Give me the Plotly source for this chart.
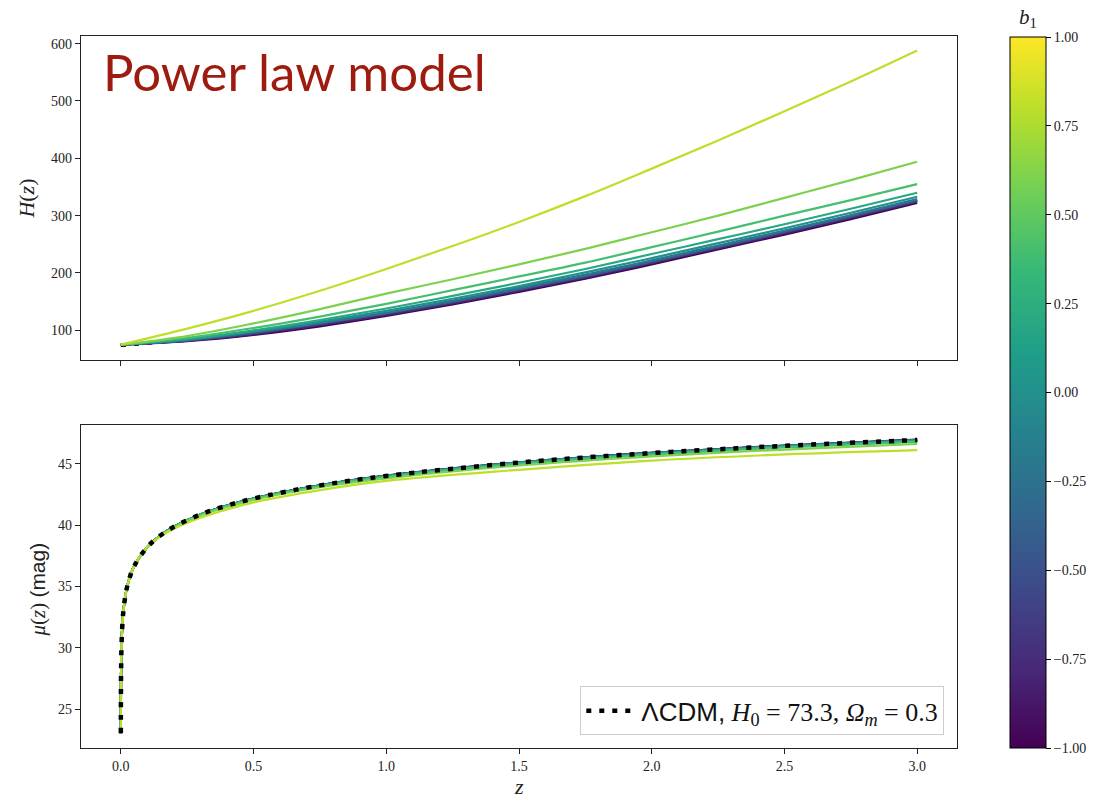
import plotly.graph_objects as go
from plotly.colors import sample_colorscale

# ---------------- data ----------------
# power-law parameter of each plotted model
B1 = [-1.0, -0.8, -0.6, -0.4, -0.2, 0.0, 0.2, 0.4, 0.6, 0.8]

# redshift grid for H(z)
Z_H = [0.0, 0.25, 0.5, 0.75, 1.0, 1.25, 1.5, 1.75, 2.0, 2.25, 2.5, 2.75, 3.0]

H_M10 = [75, 81, 92, 107, 125, 145, 167, 190, 215, 241, 267, 294, 322]
H_M08 = [75, 82, 93, 109, 127, 147, 169, 192, 217, 243, 269, 296, 324]
H_M06 = [75, 82, 95, 111, 129, 149, 171, 194, 219, 245, 271, 298, 326]
H_M04 = [75, 83, 96, 112, 130, 150, 172, 195, 220, 246, 272, 299, 327]
H_M02 = [75, 83, 97, 113, 131, 152, 174, 197, 222, 248, 274, 301, 329]
H_P00 = [75, 84, 98, 115, 134, 155, 177, 201, 226, 252, 278, 305, 333]
H_P02 = [75, 85, 100, 118, 138, 160, 183, 207, 233, 259, 285, 312, 340]
H_P04 = [75, 87, 104, 124, 146, 170, 194, 218, 245, 272, 300, 327, 355]
H_P06 = [75, 90, 112, 137, 164, 189, 215, 242, 271, 300, 331, 362, 394]
H_P08 = [75, 103, 134, 169, 207, 247, 289, 334, 382, 431, 482, 534, 588]
H_CURVES = [H_M10, H_M08, H_M06, H_M04, H_M02, H_P00, H_P02, H_P04, H_P06, H_P08]

H_LCDM = [73.3, 83.1, 95.9, 111.4, 129.1, 148.7, 170.1, 193.1, 217.4, 243.1, 269.9, 297.9, 327.0]

# redshift grid for the distance modulus
Z_MU = [0.0001, 0.0002, 0.0005, 0.001, 0.002, 0.005, 0.01, 0.02, 0.03, 0.05, 0.1,
        0.15, 0.2, 0.3, 0.4, 0.5, 0.75, 1.0, 1.5, 2.0, 2.5, 3.0]
MU_LOWZ = [23.06, 24.56, 26.55, 28.06, 29.57, 31.56, 33.07, 34.60, 35.49, 36.64, 38.22]

MU_M10 = MU_LOWZ + [39.17, 39.86, 40.86, 41.58, 42.16, 43.24, 44.02, 45.10, 45.88, 46.47, 46.95]
MU_M08 = MU_LOWZ + [39.17, 39.86, 40.86, 41.58, 42.16, 43.24, 44.01, 45.09, 45.87, 46.46, 46.94]
MU_M06 = MU_LOWZ + [39.17, 39.86, 40.86, 41.58, 42.16, 43.23, 44.01, 45.09, 45.87, 46.46, 46.93]
MU_M04 = MU_LOWZ + [39.17, 39.86, 40.86, 41.58, 42.16, 43.23, 44.00, 45.08, 45.86, 46.45, 46.92]
MU_M02 = MU_LOWZ + [39.17, 39.86, 40.86, 41.58, 42.15, 43.22, 43.99, 45.07, 45.84, 46.43, 46.90]
MU_P00 = MU_LOWZ + [39.16, 39.86, 40.86, 41.57, 42.15, 43.22, 43.98, 45.06, 45.83, 46.42, 46.89]
MU_P02 = MU_LOWZ + [39.16, 39.85, 40.85, 41.56, 42.14, 43.20, 43.96, 45.03, 45.80, 46.39, 46.85]
MU_P04 = MU_LOWZ + [39.15, 39.84, 40.83, 41.54, 42.12, 43.17, 43.92, 44.98, 45.74, 46.32, 46.78]
MU_P06 = MU_LOWZ + [39.13, 39.80, 40.78, 41.47, 42.05, 43.08, 43.80, 44.85, 45.60, 46.15, 46.60]
MU_P08 = MU_LOWZ + [39.08, 39.70, 40.60, 41.27, 41.85, 42.85, 43.60, 44.50, 45.25, 45.75, 46.10]
MU_CURVES = [MU_M10, MU_M08, MU_M06, MU_M04, MU_M02, MU_P00, MU_P02, MU_P04, MU_P06, MU_P08]

MU_LCDM = MU_LOWZ + [39.17, 39.86, 40.86, 41.58, 42.16, 43.23, 44.00, 45.09, 45.86, 46.45, 46.93]

X_TICKS = [0.0, 0.5, 1.0, 1.5, 2.0, 2.5, 3.0]
H_TICKS = [100, 200, 300, 400, 500, 600]
MU_TICKS = [25, 30, 35, 40, 45]
CB_TICKS = [-1.0, -0.75, -0.5, -0.25, 0.0, 0.25, 0.5, 0.75, 1.0]
CB_LABELS = ["\u22121.00", "\u22120.75", "\u22120.50", "\u22120.25", "0.00",
             "0.25", "0.50", "0.75", "1.00"]

# ---------------- layout geometry (pixels) ----------------
W, H = 1102, 802
L, R, T, B = 80.7, 956.7, 35.7, 747.7          # outer plotting box
TOP_BOTTOM = 360.0                              # lower edge of H(z) panel
BOT_TOP = 424.3                                 # upper edge of mu(z) panel
CB_LEFT, CB_TOP, CB_BOTTOM, CB_W = 1010, 36.7, 747.7, 36


def fx(px):
    return (px - L) / (R - L)


def fy(py):
    return (B - py) / (B - T)


SERIF = "Liberation Serif"
INK = "#222222"

fig = go.Figure()

colors = sample_colorscale("Viridis", [(b + 1) / 2 for b in B1])

# LCDM reference under the model curves in the H(z) panel
fig.add_trace(go.Scatter(
    x=Z_H, y=H_LCDM, mode="lines", xaxis="x", yaxis="y",
    line=dict(color="black", width=3, dash="5px,8px", shape="spline"),
    showlegend=False, hoverinfo="skip"))

for b, hv, c in zip(B1, H_CURVES, colors):
    fig.add_trace(go.Scatter(
        x=Z_H, y=hv, mode="lines", xaxis="x", yaxis="y",
        line=dict(color=c, width=2.2, shape="spline"),
        showlegend=False, name=f"b1={b}"))

for b, mv, c in zip(B1, MU_CURVES, colors):
    fig.add_trace(go.Scatter(
        x=Z_MU, y=mv, mode="lines", xaxis="x2", yaxis="y2",
        line=dict(color=c, width=2.2, shape="spline"),
        showlegend=False, name=f"b1={b}"))

NB = "\u00a0"
legend_text = ('<span style="font-family:Liberation Sans">\u039bCDM,</span>' + NB
               + '<i>H</i><sub>0</sub>' + NB + "=" + NB + "73.3," + NB
               + '<i>\u03a9<sub>m</sub></i>' + NB + "=" + NB + "0.3")
fig.add_trace(go.Scatter(
    x=Z_MU, y=MU_LCDM, mode="lines", xaxis="x2", yaxis="y2",
    line=dict(color="black", width=4.5, dash="5px,8px", shape="spline"),
    name=legend_text, showlegend=True))

# colour scale for b1
fig.add_trace(go.Scatter(
    x=[None], y=[None], mode="markers", showlegend=False, hoverinfo="skip",
    marker=dict(
        color=[0], colorscale="Viridis", cmin=-1, cmax=1, showscale=True,
        colorbar=dict(
            x=fx(CB_LEFT), xanchor="left", xpad=0,
            y=fy((CB_TOP + CB_BOTTOM) / 2), yanchor="middle", ypad=0,
            len=(CB_BOTTOM - CB_TOP) / (B - T), lenmode="fraction",
            thickness=CB_W, thicknessmode="pixels",
            outlinewidth=1, outlinecolor="black",
            tickvals=CB_TICKS, ticktext=CB_LABELS,
            ticks="outside", ticklen=5, tickwidth=1.2, tickcolor="black",
            tickfont=dict(family=SERIF, size=14, color=INK),
        ))))

axis_common = dict(
    showline=True, linecolor="#222222", linewidth=1.2, mirror=True,
    showgrid=False, zeroline=False, ticks="outside", ticklen=5,
    tickwidth=1.2, tickcolor="#222222",
    tickfont=dict(family=SERIF, size=14, color=INK),
)

fig.update_layout(
    width=W, height=H,
    margin=dict(l=L, r=W - R, t=T, b=H - B, pad=0),
    paper_bgcolor="white", plot_bgcolor="white",
    xaxis=dict(domain=[0, 1], anchor="y", range=[-0.15, 3.15],
               tickvals=X_TICKS, showticklabels=False, **axis_common),
    yaxis=dict(domain=[fy(TOP_BOTTOM), 1], anchor="x", range=[47.7, 613.3],
               tickvals=H_TICKS, **axis_common),
    xaxis2=dict(domain=[0, 1], anchor="y2", range=[-0.15, 3.15],
                tickvals=X_TICKS, ticktext=[f"{v:.1f}" for v in X_TICKS],
                **axis_common),
    yaxis2=dict(domain=[0, fy(BOT_TOP)], anchor="x2", range=[21.85, 48.18],
                tickvals=MU_TICKS, **axis_common),
    legend=dict(
        x=fx(944), xanchor="right", y=fy(735), yanchor="bottom",
        bgcolor="white", bordercolor="#cccccc", borderwidth=1,
        font=dict(family=SERIF, size=26, color="#111111"),
        itemwidth=50, tracegroupgap=0,
    ),
    showlegend=True,
)

annotations = [
    dict(text="Power law model", x=fx(101), y=fy(71), xref="paper", yref="paper",
         xanchor="left", yanchor="middle", showarrow=False,
         font=dict(family="Lato", size=51, color="#9e1b0f")),
    dict(text="<i>H</i>(<i>z</i>)", x=fx(26), y=fy(198), xref="paper", yref="paper",
         xanchor="center", yanchor="middle", textangle=-90, showarrow=False,
         font=dict(family=SERIF, size=22, color=INK)),
    dict(text='<i>\u03bc</i>(<i>z</i>) <span style="font-family:Liberation Sans">(mag)</span>',
         x=fx(38), y=fy(589), xref="paper", yref="paper",
         xanchor="center", yanchor="middle", textangle=-90, showarrow=False,
         font=dict(family=SERIF, size=21, color=INK)),
    dict(text="<i>z</i>", x=fx(518.7), y=fy(786), xref="paper", yref="paper",
         xanchor="center", yanchor="middle", showarrow=False,
         font=dict(family=SERIF, size=22, color=INK)),
    dict(text="<i>b</i><sub>1</sub>", x=fx(CB_LEFT + CB_W / 2), y=fy(18),
         xref="paper", yref="paper", xanchor="center", yanchor="middle",
         showarrow=False, font=dict(family=SERIF, size=21, color=INK)),
]
fig.update_layout(annotations=annotations)

fig.write_html("out.html")
